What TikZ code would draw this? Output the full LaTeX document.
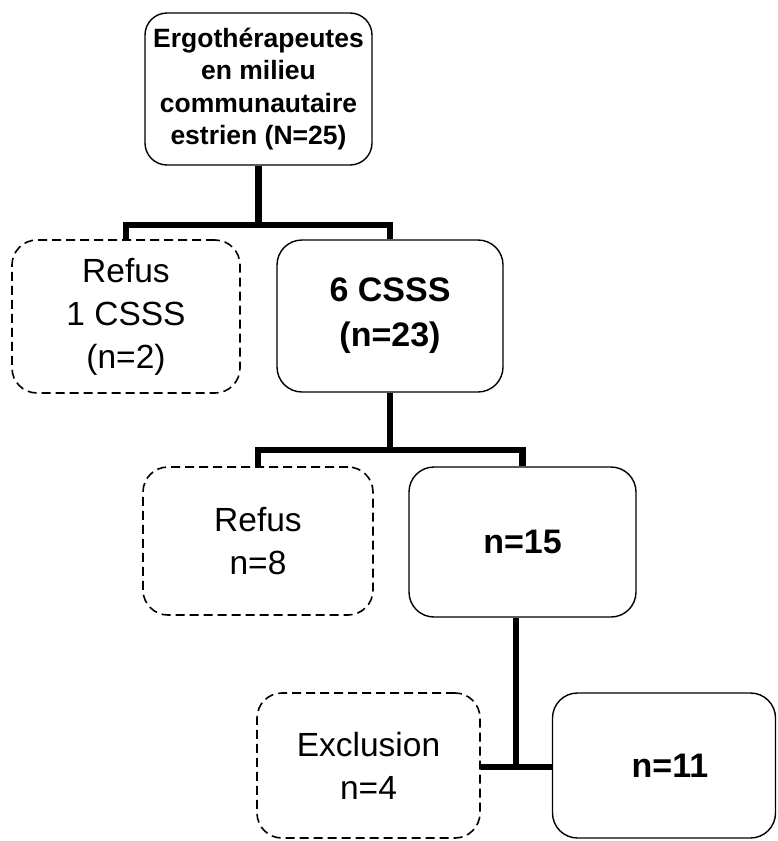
\documentclass[tikz,border=0pt]{standalone}
\usepackage{fontspec}
\setmainfont{Liberation Sans}
\begin{document}
\begin{tikzpicture}[x=1pt,y=-1pt,
  box/.style={draw=black, line width=1.4pt, rounded corners=25pt, align=center, inner sep=0pt,
     font=\fontsize{33.5}{43}\selectfont},
  solidbox/.style={box},
  dashbox/.style={box, line width=1.6pt, dash pattern=on 9pt off 5pt},
  topbox/.style={box, rounded corners=22pt, font=\fontsize{26.5}{32.5}\selectfont\bfseries},
  conn/.style={draw=black, line width=6.5pt, line join=miter, line cap=butt}]
\useasboundingbox (0,0) rectangle (777,841);
\node[topbox, minimum width=227pt, minimum height=152pt] (top) at (258.5,89) {Ergothérapeutes\\en milieu\\communautaire\\estrien (N=25)};
\node[dashbox, minimum width=228pt, minimum height=153pt] (refusA) at (126,316.5) {Refus\\1 CSSS\\(n=2)};
\node[solidbox, minimum width=226pt, minimum height=152pt, font=\fontsize{34}{45}\selectfont\bfseries] (csss) at (390,316) {6 CSSS\\(n=23)\vphantom{p}};
\node[dashbox, minimum width=230pt, minimum height=148pt] (refusB) at (258,541) {Refus\\n=8};
\node[solidbox, minimum width=227pt, minimum height=150pt, font=\fontsize{34}{43}\selectfont\bfseries] (nq) at (522.5,542) {n=15};
\node[dashbox, minimum width=223pt, minimum height=145pt] (excl) at (368.5,765.5) {Exclusion\\n=4};
\node[solidbox, minimum width=223pt, minimum height=145pt, font=\fontsize{34}{43}\selectfont\bfseries] (nz) at (664,765.5) {\hspace*{12pt}n=11};
\coordinate (j1) at (258.5,225);
\coordinate (j2) at (390,450);
\coordinate (j3) at (516,767);
\draw[conn] (top.south) -- (j1);
\draw[conn] (refusA.north) |- (j1) -| (csss.north);
\draw[conn] (csss.south) -- (j2);
\draw[conn] (refusB.north) |- (j2) -| (nq.north);
\draw[conn] ([xshift=-6.5pt]nq.south) -- (j3);
\draw[conn, line width=5.5pt] (excl.east |- j3) -- (nz.west |- j3);
\end{tikzpicture}
\end{document}
